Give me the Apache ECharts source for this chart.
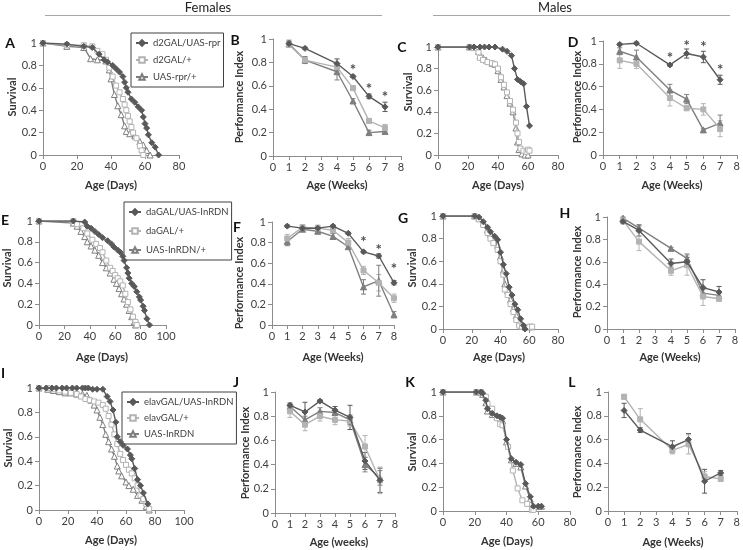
<!DOCTYPE html>
<html><head><meta charset="utf-8">
<script src="https://cdn.jsdelivr.net/npm/echarts@6/dist/echarts.min.js"></script>
<style>html,body{margin:0;padding:0;background:#fff}#c{width:743px;height:550px}</style>
</head><body><div id="c"></div>
<script>
// ---------------- DATA ----------------
const namesRow1 = ["d2GAL/UAS-rpr", "d2GAL/+", "UAS-rpr/+"];
const namesRow2 = ["daGAL/UAS-InRDN", "daGAL/+", "UAS-InRDN/+"];
const namesRow3 = ["elavGAL/UAS-InRDN", "elavGAL/+", "UAS-InRDN"];

// Panel A survival [day, fraction]
const A_dark = [[0,1],[14,0.99],[24,0.97],[29,0.96],[33,0.9],[36,0.85],[38,0.83],[41,0.8],[43,0.77],[45,0.74],[47,0.7],[48,0.65],[49,0.6],[50,0.56],[52,0.5],[54,0.47],[56,0.43],[58,0.4],[59,0.34],[60,0.28],[61,0.24],[62,0.18],[64,0.11],[66,0.07],[68,0]];
const A_light = [[0,1],[14,0.98],[24,0.98],[29,0.97],[32,0.93],[35,0.9],[37,0.85],[39,0.78],[41,0.7],[43,0.62],[45,0.56],[47,0.5],[48,0.45],[49,0.4],[50,0.35],[51,0.3],[52,0.25],[53,0.2],[55,0.15],[57,0.08],[58,0.04],[59,0]];
const A_med = [[0,1],[14,0.97],[24,0.96],[28,0.86],[32,0.85],[37,0.84],[39,0.76],[40,0.68],[42,0.54],[44,0.44],[46,0.36],[48,0.26],[49,0.21],[51,0.19],[54,0.17],[57,0.12],[59,0.09],[61,0.04],[63,0]];

// Panel B performance index
const B_weeks = [1,2,4,5,6,7];
const B_dark = [0.96,0.92,0.79,0.68,0.51,0.42];
const B_dark_err = [0.02,0.01,0.04,0.01,0.02,0.04];
const B_light = [0.95,0.82,0.76,0.58,0.30,0.24];
const B_light_err = [0.02,0.02,0.03,0.02,0.02,0.03];
const B_med = [0.96,0.82,0.72,0.47,0.20,0.21];
const B_med_err = [0.03,0.03,0.07,0.02,0.02,0.02];
const B_stars = [[5,0.76],[6,0.60],[7,0.53]];

// Panel C survival
const C_dark = [[0,1],[21,1],[24,1],[28,1],[31,1],[34,1],[38,1],[43,0.98],[46,0.96],[49,0.92],[51,0.8],[53,0.7],[55,0.68],[57,0.66],[59,0.45],[61,0.27]];
const C_light = [[0,1],[21,1],[24,0.99],[27,0.95],[28,0.9],[30,0.88],[33,0.86],[36,0.85],[38,0.84],[40,0.8],[42,0.72],[44,0.65],[46,0.58],[48,0.5],[50,0.42],[52,0.3],[53,0.2],[54,0.12],[55,0.06],[57,0.04],[59,0.03],[60,0.05],[61,0.04]];
const C_med = [[0,1],[21,1],[24,1],[27,0.96],[28,0.92],[30,0.9],[32,0.88],[36,0.85],[38,0.84],[40,0.78],[42,0.7],[44,0.63],[46,0.55],[48,0.48],[50,0.4],[52,0.25],[53,0.12],[54,0.05],[56,0.01],[58,0],[60,0]];

// Panel D
const D_weeks = [1,2,4,5,6,7];
const D_dark = [0.97,0.98,0.79,0.89,0.86,0.66];
const D_dark_err = [0.01,0.01,0.01,0.04,0.05,0.04];
const D_light = [0.83,0.80,0.50,0.41,0.40,0.23];
const D_light_err = [0.07,0.04,0.07,0.02,0.05,0.07];
const D_med = [0.91,0.86,0.57,0.49,0.22,0.28];
const D_med_err = [0.03,0.06,0.05,0.04,0.01,0.07];
const D_stars = [[4,0.88],[5,0.98],[6,0.97],[7,0.77]];

// Panel E survival
const E_dark = [[0,1],[27,1],[36,0.99],[38,0.95],[41,0.93],[44,0.9],[47,0.87],[50,0.84],[54,0.81],[57,0.78],[59,0.75],[62,0.72],[64,0.7],[66,0.66],[67,0.62],[69,0.55],[70,0.5],[71,0.45],[73,0.4],[75,0.37],[77,0.32],[79,0.27],[80,0.24],[82,0.18],[83,0.14],[85,0.06],[87,0]];
const E_light = [[0,1],[27,1],[30,0.97],[35,0.93],[38,0.88],[42,0.82],[45,0.78],[48,0.74],[50,0.7],[53,0.62],[56,0.55],[58,0.52],[60,0.48],[62,0.45],[64,0.42],[66,0.38],[68,0.3],[70,0.22],[72,0.15],[74,0.08],[76,0.03],[77,0]];
const E_med = [[0,1],[27,0.98],[30,0.95],[33,0.9],[36,0.85],[38,0.8],[41,0.76],[44,0.72],[47,0.67],[50,0.6],[53,0.55],[56,0.5],[59,0.44],[61,0.4],[63,0.35],[65,0.3],[67,0.25],[69,0.2],[71,0.14],[73,0.08],[75,0.03],[76,0]];

// Panel F
const F_weeks = [1,2,3,4,5,6,7,8];
const F_dark = [0.96,0.94,0.94,0.96,0.89,0.71,0.67,0.41];
const F_dark_err = [0.01,0.01,0.01,0.01,0.01,0.01,0.02,0.02];
const F_light = [0.84,0.95,0.94,0.92,0.80,0.53,0.41,0.26];
const F_light_err = [0.04,0.02,0.03,0.03,0.04,0.04,0.08,0.04];
const F_med = [0.81,0.93,0.91,0.86,0.76,0.37,0.43,0.10];
const F_med_err = [0.04,0.02,0.02,0.03,0.02,0.07,0.15,0.03];
const F_stars = [[6,0.83],[7,0.76],[8,0.57]];

// Panel G survival
const G_dark = [[0,1],[22,1],[25,0.99],[28,0.95],[31,0.9],[33,0.86],[36,0.82],[38,0.79],[40,0.68],[42,0.57],[44,0.49],[46,0.37],[48,0.3],[50,0.22],[52,0.17],[54,0.09],[56,0.03],[57,0]];
const G_light = [[0,1],[22,1],[25,0.97],[28,0.92],[31,0.85],[33,0.8],[35,0.76],[38,0.7],[40,0.6],[42,0.48],[43,0.35],[45,0.3],[47,0.22],[49,0.15],[51,0.08],[53,0.03],[55,0.02],[57,0.01],[60,0.02],[62,0.02]];
const G_med = [[0,1],[22,1],[25,0.98],[28,0.94],[31,0.88],[33,0.84],[36,0.8],[38,0.74],[40,0.64],[42,0.52],[43,0.4],[45,0.34],[47,0.26],[49,0.18],[51,0.12],[53,0.06],[55,0.03],[57,0.02],[60,0.02],[62,0.02]];

// Panel H
const H_weeks = [1,2,4,5,6,7];
const H_dark = [0.96,0.88,0.585,0.60,0.37,0.33];
const H_dark_err = [0.02,0.05,0.04,0.04,0.07,0.05];
const H_light = [0.97,0.78,0.52,0.57,0.29,0.27];
const H_light_err = [0.02,0.08,0.04,0.09,0.08,0.02];
const H_med = [0.99,0.90,0.72,0.63,0.32,0.30];
const H_med_err = [0.01,0.02,0.01,0.04,0.03,0.02];

// Panel I survival
const I_dark = [[0,1],[5,1],[9,1],[12,1],[16,1],[19,1],[23,1],[26,1],[30,1],[32,1],[34,1],[37,0.99],[40,0.99],[44,0.99],[47,0.93],[49,0.89],[51,0.82],[53,0.72],[54,0.6],[56,0.56],[58,0.53],[61,0.5],[63,0.45],[64,0.42],[66,0.34],[68,0.25],[70,0.2],[72,0.14],[75,0.05]];
const I_light = [[0,1],[6,1],[10,0.99],[14,0.98],[18,0.97],[22,0.96],[26,0.95],[29,0.93],[32,0.91],[35,0.9],[38,0.89],[41,0.88],[44,0.86],[46,0.83],[48,0.77],[50,0.7],[52,0.62],[54,0.54],[56,0.46],[58,0.41],[60,0.37],[62,0.33],[64,0.3],[66,0.26],[68,0.2],[70,0.12],[72,0.09],[74,0.05],[76,0.01]];
const I_med = [[0,1],[6,0.99],[10,0.98],[14,0.97],[18,0.96],[22,0.96],[26,0.95],[30,0.95],[33,0.94],[36,0.9],[38,0.86],[40,0.82],[42,0.76],[44,0.7],[46,0.62],[48,0.56],[50,0.5],[52,0.44],[54,0.36],[55,0.32],[57,0.28],[60,0.23],[62,0.2],[65,0.17],[68,0.12],[71,0.08],[74,0.03],[76,0]];

// Panel J
const J_weeks = [1,2,3,4,5,6,7];
const J_dark = [0.89,0.835,0.925,0.85,0.79,0.43,0.27];
const J_dark_err = [0.01,0.08,0.01,0.03,0.10,0.07,0.10];
const J_light = [0.84,0.73,0.80,0.77,0.76,0.55,0.27];
const J_light_err = [0.05,0.05,0.04,0.04,0.04,0.09,0.11];
const J_med = [0.88,0.77,0.84,0.83,0.77,0.40,0.29];
const J_med_err = [0.03,0.03,0.03,0.02,0.04,0.06,0.06];

// Panel K survival
const K_dark = [[0,1],[21,1],[24,1],[25,0.99],[27,0.93],[28,0.86],[31,0.82],[34,0.8],[36,0.79],[37.5,0.78],[40,0.6],[43,0.44],[46,0.41],[49,0.39],[52,0.23],[55,0.12],[57,0.04],[60,0.04],[62,0.04]];
const K_light = [[0,1],[21,1],[24,1],[27,0.96],[28,0.9],[31,0.86],[34,0.78],[36,0.73],[37.5,0.72],[41,0.54],[44,0.34],[47,0.19],[50,0.09],[53,0.06],[56,0.01],[57,0.01]];
const K_med = [[0,1],[21,1],[24,1],[25,0.98],[27,0.91],[28,0.84],[31,0.81],[34,0.79],[36,0.78],[37.5,0.76],[40,0.58],[43,0.43],[46,0.4],[49,0.37],[52,0.21],[55,0.1],[57,0.03],[60,0.04],[62,0.04]];

// Panel L
const L_weeks = [1,2,4,5,6,7];
const L_dark = [0.845,0.68,0.54,0.60,0.25,0.32];
const L_dark_err = [0.06,0.02,0.05,0.05,0.10,0.02];
const L_light = [0.96,0.77,0.51,0.56,0.29,0.27];
const L_light_err = [0.02,0.09,0.03,0.08,0.04,0.02];

// ---------------- LAYOUT / STYLE ----------------
const FONT = 'Lato, "Open Sans", sans-serif';
const COL = ['#595959', '#b3b3b3', '#7f7f7f'];   // dark, light, medium
const SYM = ['diamond', 'rect', 'triangle'];
const SYMSIZE = [6, 5, 6];
const AXC = '#8c8c8c';
const TXT = '#404040';

// grid boxes: left, top, width, height, x max, x interval
const G = {
  A:[43,43,136,112,80,20], B:[273,39,128,117,8,1], C:[438,47,120,108,80,20], D:[603,41,138,114,8,1],
  E:[39,221,127,104,100,20], F:[272,222,122,103,8,1], G:[443,216,115,113,80,20], H:[607,217,128,112,8,1],
  I:[39,388,145,122,100,20], J:[275,392,120,121,8,1], K:[443,392,127,119,80,20], L:[608,392,134,119,8,1]
};
const order = ['A','B','C','D','E','F','G','H','I','J','K','L'];

const grids = [], xAxes = [], yAxes = [], series = [];
order.forEach((k, i) => {
  const g = G[k];
  grids.push({left:g[0], top:g[1], width:g[2], height:g[3]});
  xAxes.push({type:'value', gridIndex:i, min:0, max:g[4], interval:g[5],
    axisLine:{lineStyle:{color:AXC}}, axisTick:{length:4, lineStyle:{color:AXC}},
    splitLine:{show:false}, axisLabel:{color:TXT, fontSize:11, fontFamily:FONT, margin:6}});
  yAxes.push({type:'value', gridIndex:i, min:0, max:1, interval:0.2,
    axisLine:{show:true, lineStyle:{color:AXC}}, axisTick:{show:true, length:4, lineStyle:{color:AXC}},
    splitLine:{show:false}, axisLabel:{color:TXT, fontSize:11, fontFamily:FONT, margin:6}});
});

function lineS(gi, name, data, k, filledTri) {
  const c = COL[k];
  const fill = (k === 0 || filledTri) ? c : '#ffffff';
  return {type:'line', name, xAxisIndex:gi, yAxisIndex:gi, data,
    symbol:SYM[k], symbolSize:SYMSIZE[k], showSymbol:true, showAllSymbol:true,
    lineStyle:{color:c, width:1.4}, itemStyle:{color:fill, borderColor:c, borderWidth:1},
    z: 10 - k, animation:false, silent:true};
}
function pairs(xs, ys) { return xs.map((x, i) => [x, ys[i]]); }
function errS(gi, xs, ys, es, k) {
  const c = COL[k];
  return {type:'custom', name:'err'+gi+'_'+k, xAxisIndex:gi, yAxisIndex:gi, silent:true, animation:false, z:5,
    data: xs.map((x, i) => [x, ys[i] - es[i], ys[i] + es[i]]),
    renderItem(params, api) {
      const x = api.value(0);
      const lo = api.coord([x, api.value(1)]), hi = api.coord([x, api.value(2)]);
      const w = 2.5, st = {stroke:c, lineWidth:1};
      return {type:'group', children:[
        {type:'line', shape:{x1:lo[0], y1:lo[1], x2:hi[0], y2:hi[1]}, style:st},
        {type:'line', shape:{x1:lo[0]-w, y1:lo[1], x2:lo[0]+w, y2:lo[1]}, style:st},
        {type:'line', shape:{x1:hi[0]-w, y1:hi[1], x2:hi[0]+w, y2:hi[1]}, style:st}]};
    }};
}
function starS(gi, pts) {
  return {type:'scatter', name:'star'+gi, xAxisIndex:gi, yAxisIndex:gi, data:pts, symbolSize:1,
    itemStyle:{color:'rgba(0,0,0,0)'}, silent:true, animation:false, z:20,
    label:{show:true, formatter:'*', position:'inside', fontSize:15, fontWeight:'bold', color:'#222', fontFamily:FONT, offset:[0,3]}};
}
function survival(gi, names, d, l, m) {
  series.push(lineS(gi, names[0], d, 0));
  series.push(lineS(gi, names[1], l, 1));
  series.push(lineS(gi, names[2], m, 2));
}
function perf(gi, names, weeks, sets, stars) {
  sets.forEach(([vals, errs, k]) => {
    series.push(errS(gi, weeks, vals, errs, k));
    series.push(lineS(gi, names[k], pairs(weeks, vals), k, true));
  });
  if (stars) series.push(starS(gi, stars));
}

survival(0, namesRow1, A_dark, A_light, A_med);
perf(1, namesRow1, B_weeks, [[B_dark,B_dark_err,0],[B_light,B_light_err,1],[B_med,B_med_err,2]], B_stars);
survival(2, namesRow1, C_dark, C_light, C_med);
perf(3, namesRow1, D_weeks, [[D_dark,D_dark_err,0],[D_light,D_light_err,1],[D_med,D_med_err,2]], D_stars);
survival(4, namesRow2, E_dark, E_light, E_med);
perf(5, namesRow2, F_weeks, [[F_dark,F_dark_err,0],[F_light,F_light_err,1],[F_med,F_med_err,2]], F_stars);
survival(6, namesRow2, G_dark, G_light, G_med);
perf(7, namesRow2, H_weeks, [[H_dark,H_dark_err,0],[H_light,H_light_err,1],[H_med,H_med_err,2]]);
survival(8, namesRow3, I_dark, I_light, I_med);
perf(9, namesRow3, J_weeks, [[J_dark,J_dark_err,0],[J_light,J_light_err,1],[J_med,J_med_err,2]]);
survival(10, namesRow3, K_dark, K_light, K_med);
perf(11, namesRow3, L_weeks, [[L_dark,L_dark_err,0],[L_light,L_light_err,1]]);

function legendAt(names, left, top, gap) {
  return {data:names, left, top, orient:'vertical', itemWidth:12, itemHeight:7, itemGap:gap,
    selectedMode:false, borderColor:'#404040', borderWidth:1, borderRadius:0, padding:[5,3,5,4],
    backgroundColor:'#fff', z:1, textStyle:{fontSize:9.5, color:TXT, fontFamily:FONT}};
}

// texts
const xTitles = [['Age (Days)',111,185],['Age (Weeks)',337,185],['Age (Days)',498,185],['Age (Weeks)',672,185],
  ['Age (Days)',102,357],['Age (Weeks)',333,357],['Age (Days)',499,357],['Age (Weeks)',670,357],
  ['Age (Days)',111,540],['Age (weeks)',339,542],['Age (Days)',507,541],['Age (Weeks)',673,542]];
const yTitles = [['Survival',12,97],['Performance Index',239,97],['Survival',408,92],['Performance Index',577,97],
  ['Survival',7,268],['Performance Index',239,283],['Survival',412,268],['Performance Index',577,272],
  ['Survival',8,448],['Performance Index',245,453],['Survival',412,452],['Performance Index',577,452]];
const letters = [['A',10,43],['B',235,40],['C',402,47],['D',573,42],['E',5,220],['F',237,227],['G',403,218],['H',565,213],
  ['I',3,373],['J',236,382],['K',410,382],['L',572,382]];

const graphic = [];
xTitles.forEach(([t,x,y]) => graphic.push({type:'text', x, y, silent:true, z:100,
  style:{text:t, fontSize:11, fontWeight:'bold', fontFamily:FONT, fill:'#333', align:'center', verticalAlign:'middle'}}));
yTitles.forEach(([t,x,y]) => graphic.push({type:'text', x, y, rotation:Math.PI/2, silent:true, z:100,
  style:{text:t, fontSize:11, fontWeight:'bold', fontFamily:FONT, fill:'#333', align:'center', verticalAlign:'middle'}}));
letters.forEach(([t,x,y]) => graphic.push({type:'text', x, y, silent:true, z:100,
  style:{text:t, fontSize:14, fontWeight:'bold', fontFamily:FONT, fill:'#111', align:'center', verticalAlign:'middle'}}));
graphic.push({type:'text', x:208, y:8, silent:true, style:{text:'Females', fontSize:13, fontFamily:FONT, fill:'#222', align:'center', verticalAlign:'middle'}});
graphic.push({type:'text', x:555, y:8, silent:true, style:{text:'Males', fontSize:13, fontFamily:FONT, fill:'#222', align:'center', verticalAlign:'middle'}});
graphic.push({type:'line', silent:true, shape:{x1:45, y1:15.5, x2:382, y2:15.5}, style:{stroke:'#a6a6a6', lineWidth:1}});
graphic.push({type:'line', silent:true, shape:{x1:433, y1:15.5, x2:730, y2:15.5}, style:{stroke:'#a6a6a6', lineWidth:1}});

const chart = echarts.init(document.getElementById('c'), null, {renderer:'canvas'});
chart.setOption({
  animation:false, backgroundColor:'#fff',
  textStyle:{fontFamily:FONT},
  grid:grids, xAxis:xAxes, yAxis:yAxes, series,
  legend:[legendAt(namesRow1,131,33,7), legendAt(namesRow2,124,202,9), legendAt(namesRow3,122,392,6)],
  graphic
});
</script></body></html>
